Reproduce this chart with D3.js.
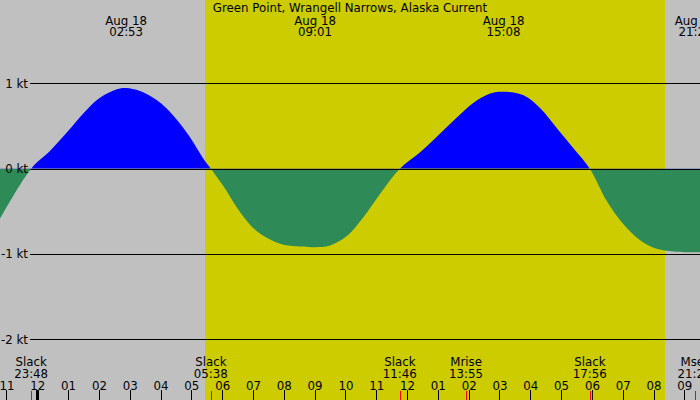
<!DOCTYPE html>
<html lang="en">
<head>
    <meta charset="UTF-8">
    <title>Green Point, Wrangell Narrows, Alaska Current</title>
    <style>
        body { margin: 0; background: #c0c0c0; }
        svg { display: block; }
        text { font-family: "DejaVu Sans", sans-serif; font-size: 11.8px; fill: #000; }
    </style>
</head>
<body>
    <div id="chart"></div>

    <script src="https://d3js.org/d3.v7.min.js"></script>
    <script>
        // current speed (kt, + flood / - ebb)
        const flowTimes = [
            "08-17 22:47", "08-17 23:48", "08-18 00:25", "08-18 00:57", "08-18 01:30",
            "08-18 02:02", "08-18 02:35", "08-18 02:53", "08-18 03:20", "08-18 03:53",
            "08-18 04:25", "08-18 04:57", "08-18 05:23", "08-18 05:38", "08-18 06:02",
            "08-18 06:35", "08-18 07:07", "08-18 07:53", "08-18 08:25", "08-18 09:01",
            "08-18 09:30", "08-18 10:03", "08-18 10:35", "08-18 11:07", "08-18 11:46",
            "08-18 12:25", "08-18 13:04", "08-18 13:37", "08-18 14:09", "08-18 14:42",
            "08-18 15:08", "08-18 15:47", "08-18 16:19", "08-18 16:51", "08-18 17:24",
            "08-18 17:56", "08-18 18:29", "08-18 19:01", "08-18 19:34", "08-18 20:06",
            "08-18 20:39", "08-18 21:22", "08-18 21:31"
        ];
        const flowKnots = [
            -0.59, 0, 0.21, 0.42, 0.65,
            0.83, 0.93, 0.945, 0.91, 0.80,
            0.62, 0.37, 0.12, 0, -0.20,
            -0.51, -0.73, -0.88, -0.91, -0.92,
            -0.90, -0.79, -0.57, -0.30, 0,
            0.19, 0.41, 0.60, 0.77, 0.88,
            0.90, 0.86, 0.71, 0.48, 0.24,
            0, -0.38, -0.65, -0.84, -0.94,
            -0.97, -0.98, -0.98
        ];

        // max flood / max ebb labels along the top
        const maxTimes = ["08-18 02:53", "08-18 09:01", "08-18 15:08", "08-18 21:22"];
        const maxDates = ["Aug 18", "Aug 18", "Aug 18", "Aug 18"];
        const maxLabels = ["02:53", "09:01", "15:08", "21:22"];

        // slack / moon events along the bottom
        const eventTimes = ["08-17 23:48", "08-18 05:38", "08-18 11:46", "08-18 13:55", "08-18 17:56", "08-18 21:20"];
        const eventNames = ["Slack", "Slack", "Slack", "Mrise", "Slack", "Mset"];
        const eventLabels = ["23:48", "05:38", "11:46", "13:55", "17:56", "21:20"];

        const sunrise = "08-18 05:27";
        const sunset = "08-18 20:23";
        const yTicks = [1, 0, -1, -2];
        const title = "Green Point, Wrangell Narrows, Alaska Current";

        const parse = d3.timeParse("%m-%d %H:%M");
        const width = 700, height = 400;

        const x = d3.scaleTime()
            .domain([parse("08-17 22:47"), parse("08-18 21:30")])
            .range([0, width]);
        x.domain([d3.timeSecond.offset(x.domain()[0], 22), d3.timeSecond.offset(x.domain()[1], 33)]);

        const y = d3.scaleLinear()
            .domain([-2, 1])
            .range([339.3, 83.3]);

        const svg = d3.select("#chart")
            .append("svg")
                .attr("width", width)
                .attr("height", height);

        // night / day background
        svg.append("rect")
            .attr("width", width).attr("height", height)
            .attr("fill", "#c0c0c0");
        svg.append("rect")
            .attr("x", x(parse(sunrise)))
            .attr("width", x(parse(sunset)) - x(parse(sunrise)))
            .attr("height", height)
            .attr("fill", "#cccc00")
            .attr("shape-rendering", "crispEdges");

        const flow = flowTimes.map((t, i) => ({ time: parse(t), value: flowKnots[i] }));

        const defs = svg.append("defs");
        defs.append("clipPath").attr("id", "above")
            .append("rect").attr("width", width).attr("height", y(0));
        defs.append("clipPath").attr("id", "below")
            .append("rect").attr("y", y(0)).attr("width", width).attr("height", height - y(0));

        const area = d3.area()
            .curve(d3.curveCatmullRom.alpha(0.5))
            .x(d => x(d.time))
            .y0(y(0))
            .y1(d => y(d.value));

        svg.append("path")
            .datum(flow)
            .attr("clip-path", "url(#above)")
            .attr("fill", "#0000ff")
            .attr("d", area);
        svg.append("path")
            .datum(flow)
            .attr("clip-path", "url(#below)")
            .attr("fill", "#2e8b57")
            .attr("d", area);

        // kt grid lines with labels
        const yAxis = svg.append("g")
            .attr("transform", `translate(${width},0)`)
            .call(d3.axisLeft(y)
                .tickValues(yTicks)
                .tickSize(width - 30)
                .tickPadding(2)
                .tickFormat(d => d + " kt"));
        yAxis.select(".domain").remove();
        yAxis.selectAll("line").attr("stroke", "#000").attr("shape-rendering", "crispEdges");
        yAxis.attr("font-family", null).attr("font-size", null);

        // hour ticks along the bottom
        const xAxis = svg.append("g")
            .attr("transform", `translate(0,${height})`)
            .call(d3.axisTop(x)
                .ticks(d3.timeHour.every(1))
                .tickSize(10)
                .tickPadding(0)
                .tickFormat(d3.timeFormat("%I")));
        xAxis.select(".domain").remove();
        xAxis.attr("font-family", null).attr("font-size", null);
        xAxis.selectAll("line").attr("stroke", "#000").attr("shape-rendering", "crispEdges")
            .attr("stroke-width", d => d.getHours() === 0 ? 3 : 1);

        // event marks and labels
        svg.selectAll(".evmark")
            .data(eventTimes)
            .enter()
            .append("line")
            .attr("x1", d => Math.round(x(parse(d))) + 0.5)
            .attr("x2", d => Math.round(x(parse(d))) + 0.5)
            .attr("y1", 391)
            .attr("y2", height)
            .attr("stroke", "#ff0000");

        const ev = svg.selectAll(".event")
            .data(eventTimes)
            .enter()
            .append("text")
            .attr("text-anchor", "middle")
            .attr("x", d => x(parse(d)));
        ev.append("tspan")
            .attr("y", 366)
            .text((d, i) => eventNames[i]);
        ev.append("tspan")
            .attr("x", d => x(parse(d)))
            .attr("y", 378)
            .text((d, i) => eventLabels[i]);

        const mx = svg.selectAll(".maxlabel")
            .data(maxTimes)
            .enter()
            .append("text")
            .attr("text-anchor", "middle")
            .attr("x", d => x(parse(d)));
        mx.append("tspan")
            .attr("y", 25)
            .text((d, i) => maxDates[i]);
        mx.append("tspan")
            .attr("x", d => x(parse(d)))
            .attr("y", 36)
            .text((d, i) => maxLabels[i]);

        svg.append("text")
            .attr("x", width / 2)
            .attr("y", 12)
            .attr("text-anchor", "middle")
            .text(title);
    </script>
</body>
</html>
